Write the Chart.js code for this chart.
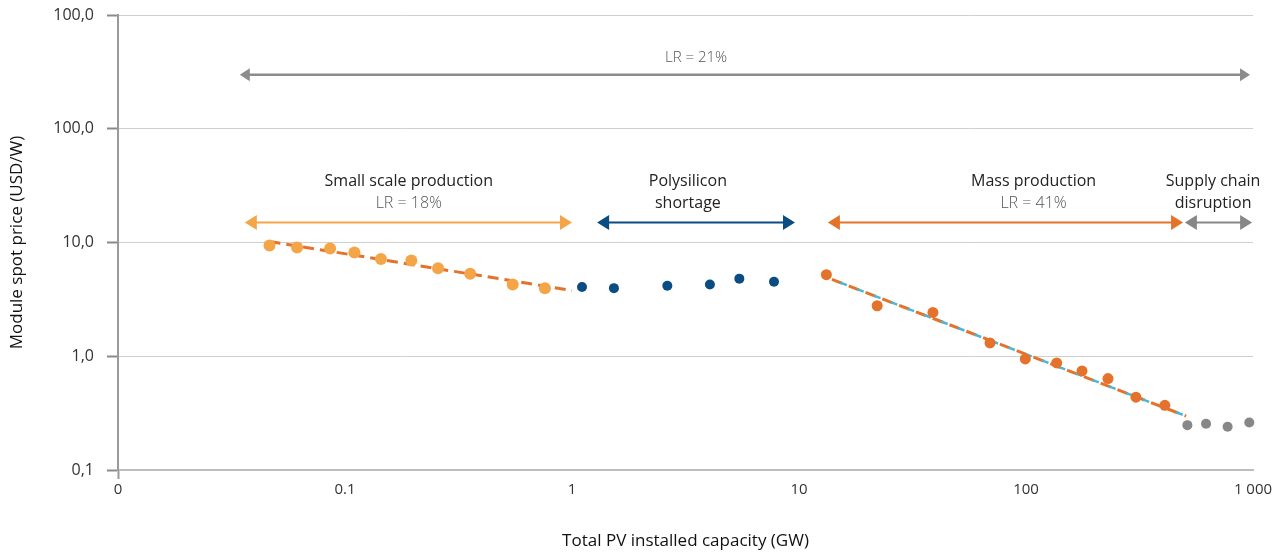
<!DOCTYPE html>
<html>
<head>
<meta charset="utf-8">
<script src="https://cdn.jsdelivr.net/npm/chart.js@4.4.1/dist/chart.umd.min.js"></script>
<style>
  body { margin: 0; background: #fff; }
  canvas { display: block; }
</style>
</head>
<body>
<canvas id="learningCurve" width="1283" height="555"></canvas>
<script>
const xTickValues = [0.01, 0.1, 1, 10, 100, 1000];
const xTickLabels = ['0', '0.1', '1', '10', '100', '1 000'];
const yTickValues = [0.1, 1, 10, 100, 1000];
const yTickLabels = ['0,1', '1,0', '10,0', '100,0', '100,0'];

// small scale production
const smallCap = [0.0465, 0.0615, 0.086, 0.110, 0.144, 0.196, 0.257, 0.356, 0.548, 0.76];
const smallPrice = [9.4, 9.05, 8.86, 8.17, 7.15, 6.95, 5.95, 5.31, 4.28, 3.97];
// polysilicon shortage
const shortageCap = [1.107, 1.53, 2.63, 4.05, 5.46, 7.76];
const shortagePrice = [4.06, 3.97, 4.17, 4.28, 4.81, 4.52];
// mass production
const massCap = [13.2, 22.1, 38.9, 69.4, 99.3, 136.5, 176.5, 229.7, 305, 409];
const massPrice = [5.21, 2.78, 2.43, 1.31, 0.947, 0.874, 0.743, 0.637, 0.437, 0.370];
// supply chain disruption
const supplyCap = [514, 621, 773, 963];
const supplyPrice = [0.248, 0.255, 0.240, 0.262];

// fitted learning curves
const smallTrendCap = [0.0465, 1.0];
const smallTrendPrice = [10.2, 3.79];
const massTrendCap = [13.97, 507];
const massTrendPrice = [4.74, 0.298];

// phase arrows (data units)
const phaseFrom = [0.0362, 1.29, 13.4, 501];
const phaseTo = [1.0, 9.6, 492, 991];
const phaseLabelX = [0.191, 3.24, 108, 667];
const phaseTitle = ['Small scale production', 'Polysilicon', 'Mass production', 'Supply chain'];
const phaseSub = ['LR = 18%', 'shortage', 'LR = 41%', 'disruption'];
const phaseColors = ['#F4A548', '#0B4C82', '#E5722B', '#878787'];
const phaseArrowY = 15;
const overallFrom = 0.0344, overallTo = 970, overallY = 298, overallLabelX = 3.52;

const pts = (xs, ys) => xs.map((x, i) => ({ x: x, y: ys[i] }));

function arrowHead(ctx, x, y, dir, len, half, color) {
  ctx.fillStyle = color;
  ctx.beginPath();
  ctx.moveTo(x, y);
  ctx.lineTo(x - dir * len, y - half);
  ctx.lineTo(x - dir * len, y + half);
  ctx.closePath();
  ctx.fill();
}

function drawArrow(ctx, x1, x2, y, color, width, len, half) {
  ctx.strokeStyle = color;
  ctx.lineWidth = width;
  ctx.beginPath();
  ctx.moveTo(x1 + len - 1, y);
  ctx.lineTo(x2 - len + 1, y);
  ctx.stroke();
  arrowHead(ctx, x1, y, -1, len, half, color);
  arrowHead(ctx, x2, y, 1, len, half, color);
}

const phasePlugin = {
  id: 'phases',
  afterDatasetsDraw(chart) {
    const ctx = chart.ctx;
    const xs = chart.scales.x, ys = chart.scales.y;
    ctx.save();
    ctx.textAlign = 'center';
    ctx.textBaseline = 'middle';

    const oy = ys.getPixelForValue(overallY);
    drawArrow(ctx, xs.getPixelForValue(overallFrom), xs.getPixelForValue(overallTo), oy, '#8c8c8c', 2.5, 10, 6.5);
    ctx.fillStyle = '#555';
    ctx.font = '300 15px "Open Sans"';
    ctx.fillText('LR = 21%', xs.getPixelForValue(overallLabelX), oy - 17);

    const py = ys.getPixelForValue(phaseArrowY);
    phaseFrom.forEach((f, i) => {
      drawArrow(ctx, xs.getPixelForValue(f), xs.getPixelForValue(phaseTo[i]), py, phaseColors[i], 2, 12, 7.5);
      const lx = xs.getPixelForValue(phaseLabelX[i]);
      ctx.fillStyle = '#222';
      ctx.font = '16px "Open Sans"';
      ctx.fillText(phaseTitle[i], lx, py - 41);
      const isLR = phaseSub[i].startsWith('LR');
      ctx.fillStyle = isLR ? '#555' : '#222';
      ctx.font = (isLR ? '300 ' : '') + '16px "Open Sans"';
      ctx.fillText(phaseSub[i], lx, py - 19);
    });
    ctx.restore();
  }
};

const chart = new Chart(document.getElementById('learningCurve'), {
  type: 'scatter',
  data: {
    datasets: [
      { data: pts(smallCap, smallPrice), backgroundColor: '#F4A548', borderWidth: 0, pointRadius: 6, order: 0 },
      { data: pts(shortageCap, shortagePrice), backgroundColor: '#0B4C82', borderWidth: 0, pointRadius: 5, order: 0 },
      { data: pts(massCap, massPrice), backgroundColor: '#E5722B', borderWidth: 0, pointRadius: 5.5, order: 0 },
      { data: pts(supplyCap, supplyPrice), backgroundColor: '#878787', borderWidth: 0, pointRadius: 5, order: 0, clip: false },
      { data: pts(smallTrendCap, smallTrendPrice), showLine: true, pointRadius: 0, borderColor: '#E5722B',
        borderWidth: 3, borderDash: [11, 6], order: 1 },
      { data: pts(massTrendCap, massTrendPrice), showLine: true, pointRadius: 0, borderColor: '#E5722B',
        borderWidth: 3, borderDash: [11, 7], order: 2 },
      { data: pts(massTrendCap, massTrendPrice), showLine: true, pointRadius: 0, borderColor: '#4DB6D4',
        borderWidth: 2.5, borderDash: [7, 11], borderDashOffset: 9, order: 1 }
    ]
  },
  options: {
    responsive: false,
    animation: false,
    layout: { padding: { top: 15, right: 30, left: 0, bottom: 0 } },
    plugins: { legend: { display: false }, tooltip: { enabled: false } },
    scales: {
      x: {
        type: 'logarithmic',
        min: 0.01,
        max: 1000,
        afterBuildTicks: s => { s.ticks = xTickValues.map(v => ({ value: v })); },
        afterFit: s => { s.height = 85; },
        border: { display: true, color: '#bdbdbd', width: 2 },
        grid: {
          drawOnChartArea: false,
          drawTicks: true,
          tickLength: 9,
          tickWidth: 2,
          tickColor: c => (c.index === 0 ? '#9a9a9a' : 'rgba(0,0,0,0)')
        },
        ticks: {
          autoSkip: false,
          maxRotation: 0,
          padding: 2,
          color: '#333',
          font: { family: 'Open Sans', size: 15 },
          callback: (v, i) => xTickLabels[i]
        },
        title: {
          display: true,
          text: 'Total PV installed capacity (GW)',
          color: '#111',
          font: { family: 'Open Sans', size: 17, weight: '500' },
          padding: { top: 0, bottom: 4 }
        }
      },
      y: {
        type: 'logarithmic',
        min: 0.1,
        max: 1000,
        afterBuildTicks: s => { s.ticks = yTickValues.map(v => ({ value: v })); },
        afterFit: s => { s.width = 118; s.paddingTop = 0; s.paddingBottom = 0; },
        border: { display: true, color: '#9a9a9a', width: 2 },
        grid: {
          color: '#cfcfcf',
          lineWidth: 1,
          borderDash: [3, 3],
          tickColor: '#8a8a8a',
          tickWidth: 2,
          tickLength: 11,
          tickBorderDash: [],
          drawTicks: true
        },
        ticks: {
          autoSkip: false,
          padding: 13,
          color: '#333',
          font: { family: 'Open Sans', size: 16 },
          callback: (v, i) => yTickLabels[i]
        },
        title: {
          display: true,
          text: 'Module spot price (USD/W)',
          color: '#111',
          font: { family: 'Open Sans', size: 17, weight: '500' },
          padding: { top: 7, bottom: 0 }
        }
      }
    }
  },
  plugins: [phasePlugin]
});
</script>
</body>
</html>
